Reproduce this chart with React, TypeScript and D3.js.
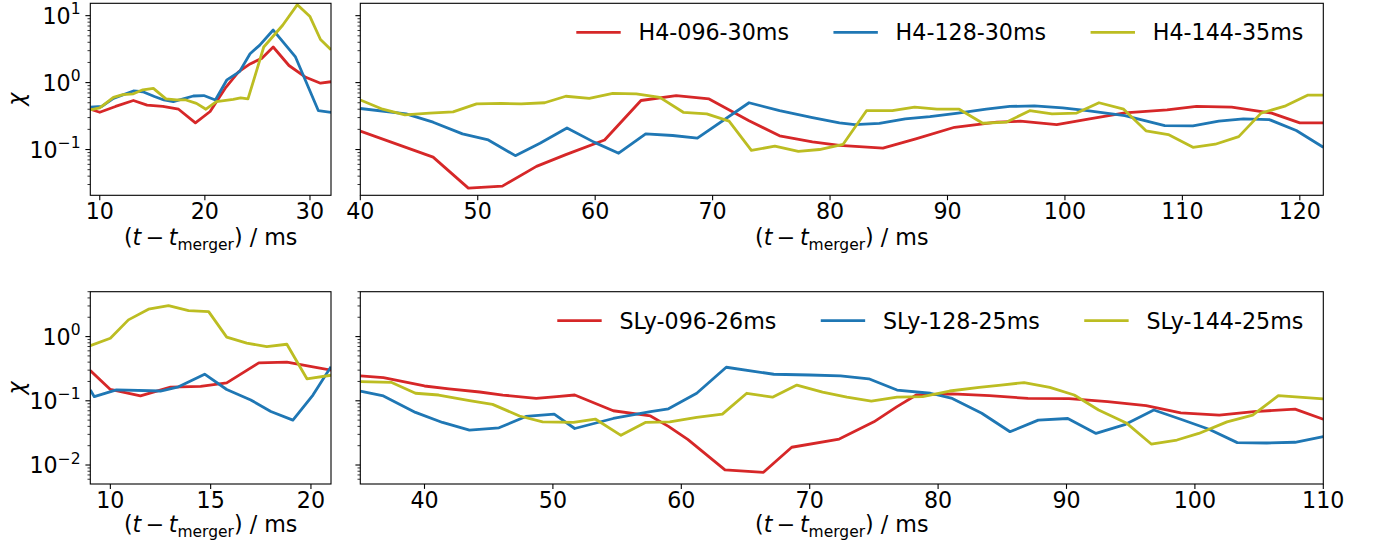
import * as d3 from 'd3';
import { useEffect, useRef } from 'react';

const W = 1375;
const H = 545;
const FONT = '"DejaVu Sans", sans-serif';
const FS = 22.2;

const colors = ['#d62728', '#1f77b4', '#bcbd22'];
const h4Labels = ['H4-096-30ms', 'H4-128-30ms', 'H4-144-35ms'];
const slyLabels = ['SLy-096-26ms', 'SLy-128-25ms', 'SLy-144-25ms'];

// [t - t_merger in ms, chi]
const h4_096_early = [[9.1, 0.4], [10.0, 0.36], [11.5, 0.44], [13.2, 0.54], [14.5, 0.46], [16.0, 0.44], [17.5, 0.4], [19.1, 0.25], [20.5, 0.37], [22.0, 0.85], [23.2, 1.45], [24.3, 1.9], [25.4, 2.3], [26.5, 3.4], [28.0, 1.8], [29.6, 1.2], [31.0, 0.98], [32.0, 1.03]];
const h4_128_early = [[9.1, 0.43], [10.2, 0.44], [11.3, 0.58], [13.2, 0.75], [14.1, 0.73], [15.2, 0.62], [16.1, 0.55], [17.0, 0.52], [18.9, 0.63], [19.9, 0.64], [21.0, 0.55], [22.1, 1.1], [23.3, 1.46], [24.3, 2.7], [25.2, 3.6], [26.5, 6.1], [28.6, 2.45], [30.8, 0.38], [32.0, 0.36]];
const h4_144_early = [[9.1, 0.39], [10.0, 0.42], [11.3, 0.6], [12.2, 0.66], [13.2, 0.68], [14.1, 0.78], [15.1, 0.82], [16.3, 0.57], [17.3, 0.55], [18.2, 0.55], [19.2, 0.49], [20.1, 0.4], [21.1, 0.52], [22.7, 0.56], [23.4, 0.59], [24.1, 0.57], [24.8, 1.3], [25.6, 3.4], [27.4, 7.2], [28.8, 14.6], [30.0, 9.7], [31.0, 4.4], [32.0, 3.1]];

const h4_096_late = [[40, 0.188], [46.2, 0.077], [49.2, 0.0265], [52.1, 0.0284], [55, 0.056], [57.5, 0.084], [60.8, 0.139], [63.9, 0.54], [66.9, 0.64], [69.7, 0.57], [73.1, 0.27], [75.7, 0.16], [78.5, 0.13], [80.8, 0.115], [84.5, 0.105], [87.3, 0.144], [90.6, 0.215], [94.2, 0.256], [96.2, 0.265], [99.3, 0.236], [102.1, 0.287], [105.1, 0.352], [108.7, 0.39], [111.2, 0.44], [114.2, 0.43], [117.6, 0.35], [120, 0.25], [122, 0.25]];
const h4_128_late = [[40, 0.41], [43.9, 0.34], [46.2, 0.256], [48.7, 0.171], [50.9, 0.139], [53.2, 0.081], [55.3, 0.124], [57.6, 0.21], [59.9, 0.129], [62.0, 0.088], [64.3, 0.171], [66.6, 0.162], [68.7, 0.148], [73.1, 0.5], [75.7, 0.38], [78.5, 0.3], [80.8, 0.25], [82.1, 0.236], [84.2, 0.246], [86.4, 0.287], [88.5, 0.31], [90.9, 0.35], [93.3, 0.4], [95.3, 0.44], [97.4, 0.45], [99.8, 0.42], [101.9, 0.38], [105.1, 0.32], [108.5, 0.228], [110.9, 0.226], [113.1, 0.265], [115.2, 0.287], [117.4, 0.28], [119.7, 0.192], [122, 0.108]];
const h4_144_late = [[40, 0.55], [41.9, 0.4], [43.8, 0.33], [45.9, 0.35], [47.9, 0.365], [49.9, 0.48], [52, 0.49], [53.7, 0.48], [55.7, 0.5], [57.5, 0.625], [59.5, 0.58], [61.5, 0.69], [63.5, 0.68], [65.5, 0.6], [67.5, 0.36], [69.5, 0.34], [71.4, 0.265], [73.3, 0.097], [75.3, 0.112], [77.3, 0.094], [79.1, 0.1], [81.1, 0.119], [83.1, 0.38], [85.3, 0.38], [87.2, 0.43], [89.1, 0.4], [91.0, 0.4], [93.0, 0.247], [95.0, 0.256], [97.0, 0.38], [98.9, 0.34], [101.0, 0.35], [102.9, 0.5], [105.0, 0.4], [106.9, 0.19], [108.8, 0.167], [110.9, 0.108], [112.8, 0.12], [114.8, 0.156], [116.7, 0.35], [118.8, 0.45], [120.7, 0.65], [122, 0.65]];

const sly_096_early = [[9.0, 0.295], [10.0, 0.15], [11.5, 0.119], [13.0, 0.163], [14.5, 0.168], [15.8, 0.19], [17.4, 0.39], [18.8, 0.4], [21.0, 0.3]];
const sly_128_early = [[9.0, 0.147], [9.2, 0.116], [10.3, 0.148], [12.5, 0.142], [13.4, 0.165], [14.7, 0.26], [15.8, 0.15], [17.0, 0.103], [18.0, 0.068], [19.1, 0.05], [20.1, 0.123], [21.0, 0.34]];
const sly_144_early = [[9.0, 0.72], [10.0, 0.94], [10.9, 1.82], [11.9, 2.67], [12.9, 3.04], [13.9, 2.54], [14.9, 2.45], [15.8, 0.98], [16.8, 0.79], [17.8, 0.7], [18.8, 0.76], [19.8, 0.22], [21.0, 0.25]];

const sly_096_late = [[35, 0.244], [36.8, 0.23], [40, 0.17], [41.9, 0.153], [44.3, 0.137], [46.1, 0.123], [48.7, 0.109], [50.3, 0.116], [51.7, 0.123], [54.7, 0.07], [57.6, 0.058], [59, 0.04], [60.5, 0.025], [63.4, 0.0084], [66.4, 0.0077], [68.6, 0.0189], [72.3, 0.0254], [75.0, 0.047], [76.8, 0.081], [78.3, 0.123], [81.1, 0.128], [84, 0.12], [87, 0.109], [90.2, 0.108], [93.2, 0.097], [96.2, 0.084], [98.9, 0.065], [101.9, 0.06], [104.6, 0.068], [107.8, 0.074], [110, 0.0515]];
const sly_128_late = [[35, 0.142], [36.8, 0.119], [39.3, 0.066], [41.4, 0.046], [43.5, 0.035], [45.8, 0.038], [47.9, 0.057], [50.1, 0.062], [51.7, 0.037], [54.7, 0.053], [57.6, 0.068], [59, 0.075], [61.2, 0.131], [63.5, 0.333], [67.2, 0.259], [70, 0.252], [72.4, 0.245], [74.6, 0.22], [76.8, 0.147], [79.4, 0.131], [81.1, 0.109], [83.4, 0.064], [85.6, 0.033], [87.8, 0.05], [90.1, 0.053], [92.3, 0.031], [94.6, 0.043], [96.8, 0.072], [98.9, 0.0515], [101.1, 0.036], [103.3, 0.0223], [105.6, 0.022], [107.8, 0.0226], [110, 0.0277]];
const sly_144_late = [[35, 0.199], [37.4, 0.194], [39.3, 0.131], [41.1, 0.123], [43.5, 0.101], [45.3, 0.088], [47.4, 0.058], [49.2, 0.047], [51.6, 0.046], [53.3, 0.052], [55.3, 0.029], [57.2, 0.046], [59.1, 0.047], [61.2, 0.055], [63.2, 0.062], [65.1, 0.131], [67.1, 0.114], [69, 0.176], [71, 0.136], [72.9, 0.114], [74.8, 0.099], [76.8, 0.114], [78.8, 0.116], [80.9, 0.142], [83.2, 0.162], [84.9, 0.176], [86.7, 0.192], [88.7, 0.162], [90.6, 0.123], [92.5, 0.072], [94.7, 0.0446], [96.6, 0.0212], [98.6, 0.0245], [100.3, 0.031], [102.5, 0.047], [104.5, 0.06], [106.5, 0.12], [110, 0.107]];

const topYDomain = [0.0207, 15.3];
const bottomYDomain = [0.00506, 5.0];
const topYTicks = [0.1, 1, 10];
const bottomYTicks = [0.01, 0.1, 1];
const xTicksTopLeft = [10, 20, 30];
const xTicksTopRight = [40, 50, 60, 70, 80, 90, 100, 110, 120];
const xTicksBottomLeft = [10, 15, 20];
const xTicksBottomRight = [40, 50, 60, 70, 80, 90, 100, 110];

type Pt = number[];
interface Panel {
  id: string;
  x0: number; x1: number; y0: number; y1: number;
  xDomain: number[]; yDomain: number[];
  xTicks: number[]; yTicks: number[];
  series: Pt[][];
  yLabels: boolean;
  legend: string[] | null;
  tickOffset: number;
  labelOffset: number;
}

const panels: Panel[] = [
  { id: 'tl', x0: 90.3, x1: 331, y0: 3.3, y1: 195.3, xDomain: [9.1, 32], yDomain: topYDomain, xTicks: xTicksTopLeft, yTicks: topYTicks, series: [h4_096_early, h4_128_early, h4_144_early], yLabels: true, legend: null, tickOffset: 24, labelOffset: 50 },
  { id: 'tr', x0: 360.3, x1: 1323.3, y0: 3.3, y1: 195.3, xDomain: [40, 122], yDomain: topYDomain, xTicks: xTicksTopRight, yTicks: topYTicks, series: [h4_096_late, h4_128_late, h4_144_late], yLabels: false, legend: h4Labels, tickOffset: 24, labelOffset: 50 },
  { id: 'bl', x0: 90.3, x1: 331, y0: 291.7, y1: 484, xDomain: [9, 21], yDomain: bottomYDomain, xTicks: xTicksBottomLeft, yTicks: bottomYTicks, series: [sly_096_early, sly_128_early, sly_144_early], yLabels: true, legend: null, tickOffset: 23.5, labelOffset: 48 },
  { id: 'br', x0: 360.3, x1: 1323.3, y0: 291.7, y1: 484, xDomain: [35, 110], yDomain: bottomYDomain, xTicks: xTicksBottomRight, yTicks: bottomYTicks, series: [sly_096_late, sly_128_late, sly_144_late], yLabels: false, legend: slyLabels, tickOffset: 23.5, labelOffset: 48 },
];

function expLabel(v: number) {
  const e = Math.round(Math.log10(v));
  return e < 0 ? '\u2212' + Math.abs(e) : String(e);
}

export default function App() {
  const svgRef = useRef<SVGSVGElement>(null);

  useEffect(() => {
    if (svgRef.current == null) {
      return;
    }
    const svg = d3.select(svgRef.current);
    svg.selectAll('*').remove();
    svg.append('rect').attr('width', W).attr('height', H).attr('fill', 'white');

    for (const p of panels) {
      const x = d3.scaleLinear().domain(p.xDomain).range([p.x0, p.x1]);
      const y = d3.scaleLog().domain(p.yDomain).range([p.y1, p.y0]);
      const g = svg.append('g');

      g.append('clipPath')
        .attr('id', 'clip-' + p.id)
        .append('rect')
        .attr('x', p.x0)
        .attr('y', p.y0)
        .attr('width', p.x1 - p.x0)
        .attr('height', p.y1 - p.y0);

      const line = d3
        .line<Pt>()
        .x((d) => x(d[0]))
        .y((d) => y(d[1]));

      p.series.forEach((s, i) => {
        g.append('path')
          .attr('d', line(s))
          .attr('fill', 'none')
          .attr('stroke', colors[i])
          .attr('stroke-width', 2.8)
          .attr('stroke-linejoin', 'round')
          .attr('clip-path', `url(#clip-${p.id})`);
      });

      // minor log ticks
      const [lo, hi] = p.yDomain;
      for (let e = Math.floor(Math.log10(lo)); e <= Math.ceil(Math.log10(hi)); e++) {
        for (let k = 2; k <= 9; k++) {
          const v = k * Math.pow(10, e);
          if (v < lo || v > hi) continue;
          g.append('line')
            .attr('x1', p.x0 - 2.8)
            .attr('x2', p.x0)
            .attr('y1', y(v))
            .attr('y2', y(v))
            .attr('stroke', 'black')
            .attr('stroke-width', 0.8);
        }
      }

      for (const v of p.yTicks) {
        g.append('line')
          .attr('x1', p.x0 - 4.9)
          .attr('x2', p.x0)
          .attr('y1', y(v))
          .attr('y2', y(v))
          .attr('stroke', 'black')
          .attr('stroke-width', 1.1);
        if (p.yLabels) {
          const t = g
            .append('text')
            .attr('x', p.x0 - 9.8)
            .attr('y', y(v) + 8.1)
            .attr('text-anchor', 'end')
            .attr('font-family', FONT)
            .attr('font-size', FS);
          t.append('tspan').text('10');
          t.append('tspan').attr('dy', -9.5).attr('font-size', 15.5).text(expLabel(v));
        }
      }

      for (const v of p.xTicks) {
        g.append('line')
          .attr('x1', x(v))
          .attr('x2', x(v))
          .attr('y1', p.y1)
          .attr('y2', p.y1 + 4.9)
          .attr('stroke', 'black')
          .attr('stroke-width', 1.1);
        g.append('text')
          .attr('x', x(v))
          .attr('y', p.y1 + p.tickOffset)
          .attr('text-anchor', 'middle')
          .attr('font-family', FONT)
          .attr('font-size', FS)
          .text(String(v));
      }

      g.append('rect')
        .attr('x', p.x0)
        .attr('y', p.y0)
        .attr('width', p.x1 - p.x0)
        .attr('height', p.y1 - p.y0)
        .attr('fill', 'none')
        .attr('stroke', 'black')
        .attr('stroke-width', 1.1);

      // x label
      const xl = g
        .append('text')
        .attr('x', (p.x0 + p.x1) / 2)
        .attr('y', p.y1 + p.labelOffset)
        .attr('text-anchor', 'middle')
        .attr('font-family', FONT)
        .attr('font-size', FS)
        .style('white-space', 'pre');
      xl.append('tspan').text('(');
      xl.append('tspan').attr('font-style', 'italic').text('t');
      xl.append('tspan').text('\u2009\u2212\u2009');
      xl.append('tspan').attr('font-style', 'italic').text('t');
      xl.append('tspan').attr('font-size', 15.5).attr('dy', 4.5).text('merger');
      xl.append('tspan').attr('dy', -4.5).text(')');
      xl.append('tspan').text(' / ms');

      if (p.yLabels) {
        const cy = (p.y0 + p.y1) / 2;
        g.append('text')
          .attr('transform', `translate(24, ${cy}) rotate(-90)`)
          .attr('text-anchor', 'middle')
          .attr('font-family', FONT)
          .attr('font-size', FS)
          .attr('font-style', 'italic')
          .text('\u03c7');
      }

      if (p.legend) {
        const ly = p.y0 + 29;
        const handle = 2 * FS;
        const pad = 0.8 * FS;
        const colGap = 2 * FS;
        const widths = p.legend.map((lab) => {
          const tmp = g.append('text').attr('font-family', FONT).attr('font-size', FS).text(lab);
          const w = (tmp.node() as SVGTextElement).getComputedTextLength();
          tmp.remove();
          return w;
        });
        const total = d3.sum(widths) + p.legend.length * (handle + pad) + (p.legend.length - 1) * colGap;
        let cx = p.x1 - 0.9 * FS - total;
        p.legend.forEach((lab, i) => {
          g.append('line')
            .attr('x1', cx)
            .attr('x2', cx + handle)
            .attr('y1', ly)
            .attr('y2', ly)
            .attr('stroke', colors[i])
            .attr('stroke-width', 2.8);
          g.append('text')
            .attr('x', cx + handle + pad)
            .attr('y', ly + 8)
            .attr('font-family', FONT)
            .attr('font-size', FS)
            .text(lab);
          cx += handle + pad + widths[i] + colGap;
        });
      }
    }
  }, []);

  return (
    <svg
      ref={svgRef}
      width={W}
      height={H}
      style={{ position: 'absolute', left: 0, top: 0, display: 'block' }}
    />
  );
}
